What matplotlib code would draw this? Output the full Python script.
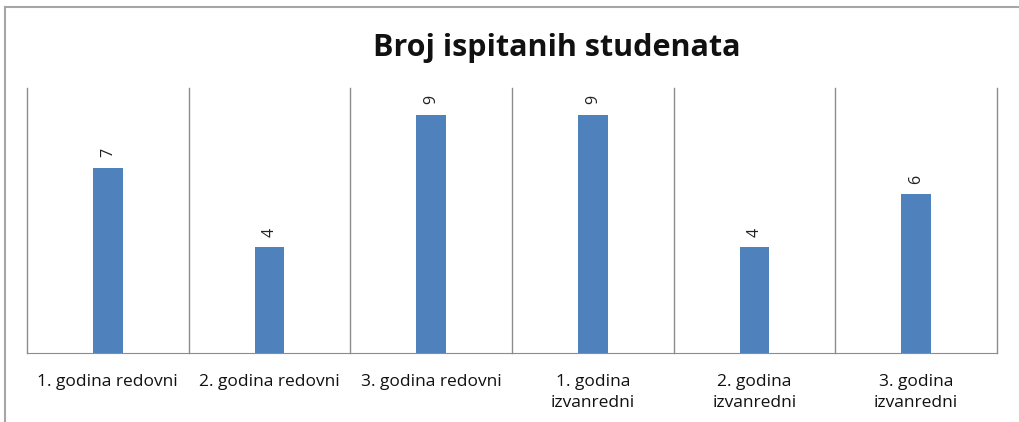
import numpy as np
import matplotlib.pyplot as plt
from matplotlib.lines import Line2D

# Chart data
categories = ["1. godina redovni", "2. godina redovni", "3. godina redovni",
              "1. godina\nizvanredni", "2. godina\nizvanredni", "3. godina\nizvanredni"]
counts = [7, 4, 9, 9, 4, 6]
title = "Broj ispitanih studenata"

bar_color = "#4F81BD"
grid_color = "#8C8C8C"
frame_color = "#A6A6A6"

W, H = 1020, 422
fig = plt.figure(figsize=(W / 100, H / 100), dpi=100)
plt.rcParams['font.family'] = ['Open Sans', 'DejaVu Sans']

# outer chart frame (cropped on right and bottom)
fig.add_artist(Line2D([5.5 / W, 5.5 / W], [0, 1 - 7 / H], transform=fig.transFigure,
                      color=frame_color, lw=1.5))
fig.add_artist(Line2D([5.5 / W, 1], [1 - 7 / H, 1 - 7 / H], transform=fig.transFigure,
                      color=frame_color, lw=1.5))

ax = fig.add_axes([27 / W, 1 - 353 / H, (997 - 27) / W, (353 - 88) / H])
x = np.arange(len(categories))
ax.bar(x, counts, width=0.185, color=bar_color, zorder=3)
for xi, v in zip(x, counts):
    ax.text(xi, v + 0.38, str(v), rotation=90, ha="center", va="bottom",
            fontsize=11.5, color="#222222")

for b in np.arange(-0.5, len(categories), 1.0):
    ax.axvline(b, color=grid_color, lw=1.0, zorder=1, clip_on=False)

ax.set_xlim(-0.5, len(categories) - 0.5)
ax.set_ylim(0, 10)
for s in ["top", "left", "right"]:
    ax.spines[s].set_visible(False)
ax.spines["bottom"].set_color(grid_color)
ax.set_yticks([])
ax.set_xticks(x)
ax.set_xticklabels(categories, fontsize=12.5, color="#111111", linespacing=1.45)
ax.tick_params(axis="x", length=0, pad=15)

fig.text(557 / W, 1 - 48 / H, title, ha="center", va="center",
         fontsize=22, fontweight="bold", color="#111111")

fig.savefig("out.png", dpi=100)
